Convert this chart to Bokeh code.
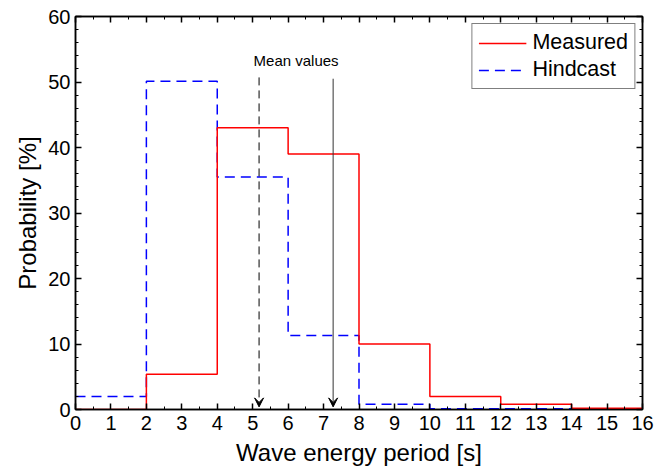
import numpy as np
from bokeh.plotting import figure
from bokeh.models import (Range1d, LinearAxis, SingleIntervalTicker, Legend, LegendItem,
                          Arrow, VeeHead, Label, CustomLabelingPolicy)
from bokeh.embed import file_html
from bokeh.resources import INLINE

# ---- data ----
bin_edges = [0, 2, 4, 6, 8, 10, 12, 14, 16]
measured = [0.0, 5.4, 43.0, 39.0, 10.0, 2.0, 0.8, 0.2]
hindcast = [2.0, 50.1, 35.5, 11.3, 0.8, 0.1, 0.1, 0.1]
mean_measured = 7.27
mean_hindcast = 5.18
x_ticks = list(range(0, 17))
y_ticks = [0, 10, 20, 30, 40, 50, 60]

FONT = "Liberation Sans"

p = figure(width=657, height=471, output_backend="svg", toolbar_location=None,
           x_range=Range1d(0, 16), y_range=Range1d(0, 60),
           min_border_left=75, min_border_right=15, min_border_top=16, min_border_bottom=62)
p.grid.visible = False
p.outline_line_color = "black"
p.outline_line_width = 1.5
p.background_fill_color = "white"
p.border_fill_color = "white"


def step_xy(edges, vals):
    xs = np.repeat(np.asarray(edges, dtype=float), 2)[1:-1]
    ys = np.repeat(np.asarray(vals, dtype=float), 2)
    return xs, ys


mx, my = step_xy(bin_edges, measured)
hx, hy = step_xy(bin_edges, hindcast)

r_h = p.line(hx, hy, line_color="blue", line_width=1.5, line_dash="10 6")
r_m = p.line(mx, my, line_color="red", line_width=1.5)

# mean lines with arrow heads
p.add_layout(Arrow(end=VeeHead(size=9, line_color="black", fill_color="black", line_width=1),
                   x_start=mean_hindcast, y_start=50.7, x_end=mean_hindcast, y_end=0.4,
                   line_color="black", line_width=1, line_dash="8 5"))
p.add_layout(Arrow(end=VeeHead(size=9, line_color="black", fill_color="black", line_width=1),
                   x_start=mean_measured, y_start=50.5, x_end=mean_measured, y_end=0.4,
                   line_color="#333333", line_width=1))
p.add_layout(Label(x=(mean_hindcast + mean_measured) / 2, y=53.3, text="Mean values",
                   text_align="center", text_baseline="middle", text_font=FONT,
                   text_font_size="15px", text_color="black"))


def style_axis(ax, labels=True):
    ax.axis_line_color = "black"
    ax.axis_line_width = 1.5
    ax.major_tick_in = 6
    ax.major_tick_out = 0
    ax.minor_tick_in = 3
    ax.minor_tick_out = 0
    ax.major_tick_line_color = "black"
    ax.major_tick_line_width = 1.5
    ax.minor_tick_line_color = "black"
    ax.minor_tick_line_width = 1
    ax.major_label_text_font = FONT
    ax.major_label_text_font_size = "20px"
    ax.major_label_text_color = "black"
    ax.axis_label_text_font = FONT
    ax.axis_label_text_font_size = "24px"
    ax.axis_label_text_font_style = "normal"
    ax.axis_label_text_color = "black"
    if not labels:
        ax.major_label_policy = CustomLabelingPolicy(code="for (const i of []) { yield i }")
        ax.major_label_text_font_size = "1px"
        ax.major_label_standoff = 0


p.xaxis.ticker = SingleIntervalTicker(interval=1, num_minor_ticks=2)
p.yaxis.ticker = SingleIntervalTicker(interval=10, num_minor_ticks=5)
style_axis(p.xaxis[0])
style_axis(p.yaxis[0])
p.xaxis.axis_label = "Wave energy period [s]"
p.yaxis.axis_label = "Probability [%]"
p.xaxis.major_label_standoff = 6
p.yaxis.major_label_standoff = 5
p.xaxis.axis_label_standoff = 6
p.yaxis.axis_label_standoff = 4

top = LinearAxis(ticker=SingleIntervalTicker(interval=1, num_minor_ticks=2))
right = LinearAxis(ticker=SingleIntervalTicker(interval=10, num_minor_ticks=5))
style_axis(top, labels=False)
style_axis(right, labels=False)
p.add_layout(top, "above")
p.add_layout(right, "right")

legend = Legend(items=[LegendItem(label="Measured", renderers=[r_m]),
                       LegendItem(label="Hindcast", renderers=[r_h])],
                location="top_right")
legend.label_text_font = FONT
legend.label_text_font_size = "21.5px"
legend.label_text_color = "black"
legend.glyph_width = 48
legend.glyph_height = 22
legend.label_height = 22
legend.label_standoff = 6
legend.spacing = 2
legend.padding = 6
legend.margin = 7
legend.border_line_color = "black"
legend.border_line_width = 1.5
legend.background_fill_alpha = 1.0
p.add_layout(legend)

open("out.html", "w").write(file_html(p, INLINE))
